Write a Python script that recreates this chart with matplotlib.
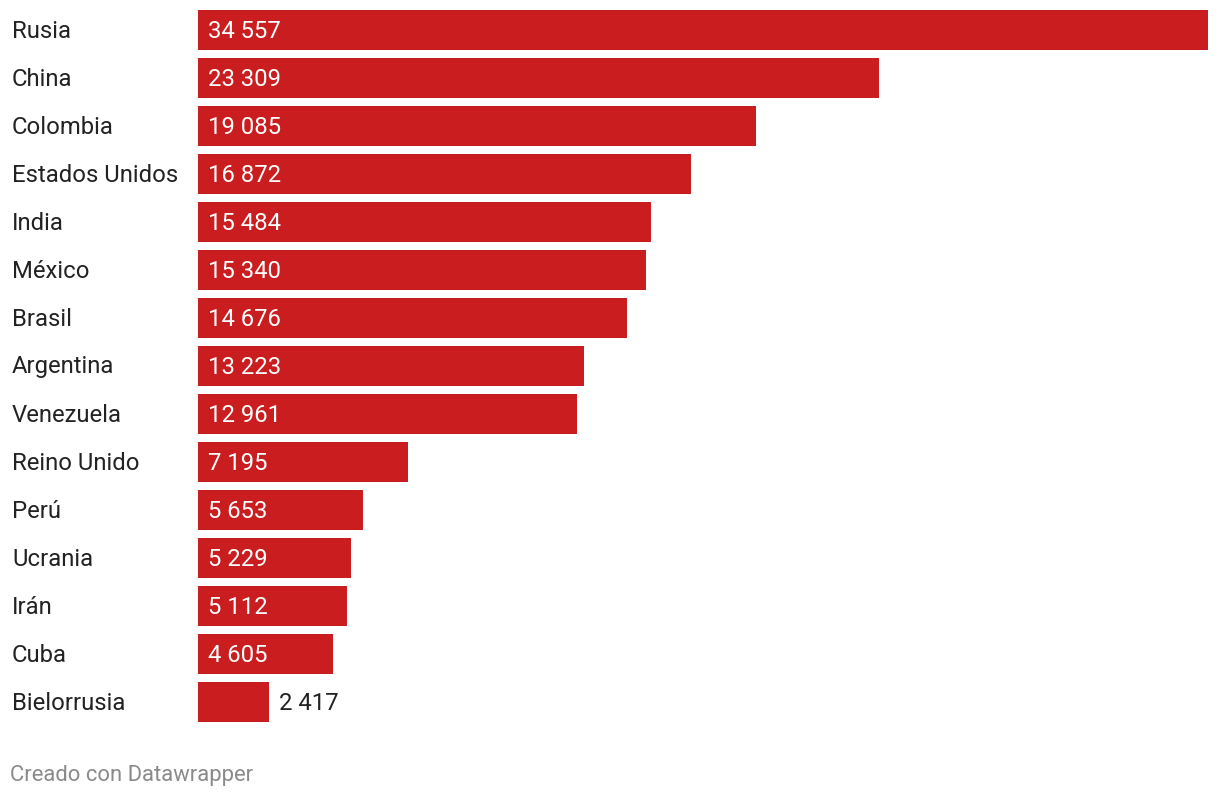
import matplotlib.pyplot as plt

plt.rcParams['font.family'] = ['Roboto', 'DejaVu Sans']

paises = ["Rusia", "China", "Colombia", "Estados Unidos", "India", "México",
          "Brasil", "Argentina", "Venezuela", "Reino Unido", "Perú", "Ucrania",
          "Irán", "Cuba", "Bielorrusia"]
valores = [34557, 23309, 19085, 16872, 15484, 15340, 14676, 13223, 12961,
           7195, 5653, 5229, 5112, 4605, 2417]

W, H = 1220, 798
fig = plt.figure(figsize=(W / 100, H / 100), dpi=100)
# axes spans from x=198 to 1208 px, y=6 to 726 px
ax = fig.add_axes([198 / W, 1 - 726 / H, (1208 - 198) / W, 720 / H])

rojo = "#c91d1f"
oscuro = "#222222"
pos = list(range(len(paises)))
ax.barh(pos, valores, height=40 / 48, color=rojo)
ax.set_xlim(0, max(valores))
ax.set_ylim(len(paises) - 0.5, -0.5)
ax.axis("off")

def fmt(v):
    return f"{v:,}".replace(",", " ")

fs = 17.2
for i, (p, v) in enumerate(zip(paises, valores)):
    ax.annotate(p, xy=(0, i), xycoords="data", xytext=(12, -1),
                textcoords=("figure pixels", "offset pixels"),
                va="center", ha="left", fontsize=fs, color=oscuro)
    if v > 4000:
        ax.annotate(fmt(v), xy=(0, i), xytext=(10, -1), textcoords="offset pixels",
                    va="center", ha="left", fontsize=fs, color="white")
    else:
        ax.annotate(fmt(v), xy=(v, i), xytext=(10, -1), textcoords="offset pixels",
                    va="center", ha="left", fontsize=fs, color=oscuro)

fig.text(10 / W, 1 - 775 / H, "Creado con Datawrapper", fontsize=15.8,
         color="#8a8a8a", va="center", ha="left")

fig.savefig("out.png", dpi=100, facecolor="white")
